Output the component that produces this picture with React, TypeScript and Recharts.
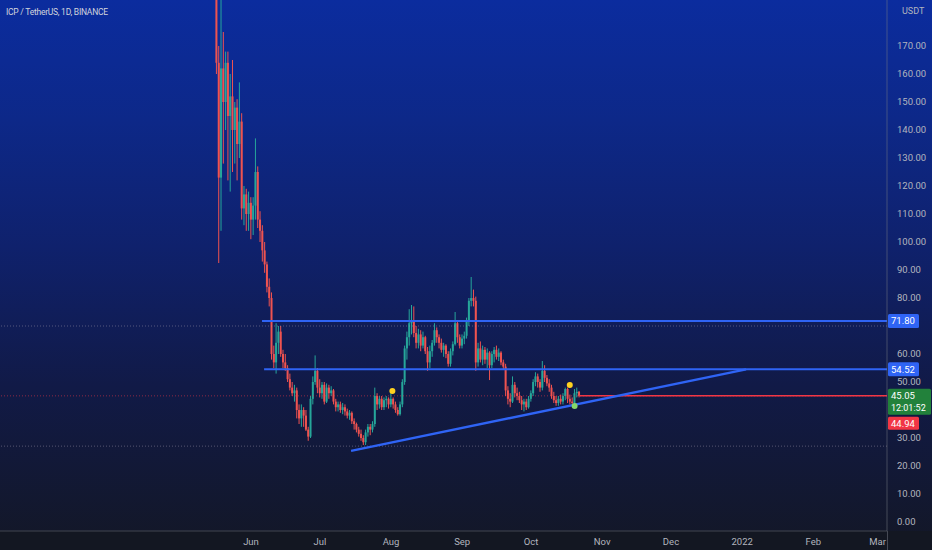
import React from 'react';
import { ComposedChart, Bar, XAxis, YAxis, ReferenceLine, ReferenceDot } from 'recharts';

// day 0 = 2021-06-01, first visible candle is 2021-05-17
const FIRST_DAY = -15;

const opens = [
  232, 164, 123, 162, 150, 164, 145, 152, 140, 148,
  135, 143, 112, 117, 110, 114, 108, 113, 125, 108,
  104, 97, 92, 84, 80, 60, 57, 64, 68, 60,
  57, 55, 51, 48, 46, 47, 40, 37, 40, 38,
  33, 30.5, 44, 50, 54, 48, 46, 49, 43, 48,
  46, 47, 43, 41, 42, 40, 41, 39.5, 38, 39,
  36, 35, 33, 31.5, 30, 28.5, 32, 34, 33, 35,
  45, 42, 44, 41, 43.5, 44, 42, 44, 42, 40,
  38.5, 42, 50, 62, 66, 71, 72, 67.5, 64, 67,
  63, 66, 61, 57, 61, 64, 68.5, 66, 64, 61.5,
  63, 60, 56.5, 61, 63.5, 71, 66, 63, 65.5, 66.5,
  72, 79, 80, 79, 57, 62, 58, 61.5, 58, 60.5,
  56, 60, 61.5, 59, 60.5, 57, 55.5, 47, 44, 43,
  49, 46, 45, 43.5, 42, 43, 41, 44, 46, 50,
  52, 50, 48, 54, 51.5, 49.5, 48, 45, 43.5, 42.5,
  44, 43, 45, 47.5, 44, 43, 42.5, 46, 46.5,
];

const highs = [
  262, 170, 200, 175, 168, 168, 160, 165, 150, 151,
  157, 146, 120, 119, 118, 116, 116, 137, 127, 111,
  106, 100, 93, 87, 82, 63, 71, 70, 70, 61.5,
  60, 56, 53, 50, 49, 48, 42, 42, 41, 40,
  34, 45, 52, 59.5, 55, 51, 50, 50, 49.5, 49,
  48.5, 47.5, 44, 43, 43, 42.5, 42, 40.5, 40, 39.5,
  37, 35.5, 34, 33, 31, 33, 35, 35, 36, 48,
  46, 45, 45, 44.5, 45, 44.5, 46, 44.5, 43, 41,
  43, 51, 63, 68, 76, 77.5, 77, 70, 69, 68.5,
  68, 66.5, 62.5, 63, 65, 71, 69.5, 67, 65.5, 64,
  63.5, 61, 62, 64.5, 75, 72, 67, 67, 68, 73,
  80, 87.5, 83, 80.5, 64, 64.5, 63, 62.5, 62, 61,
  61, 62.5, 63, 62, 61, 58, 56.5, 48.5, 46, 52,
  50, 48, 46.5, 45, 44, 44, 45, 47, 51, 53.5,
  53, 51, 57.5, 56, 52.5, 51, 49, 46.5, 45, 45,
  45.5, 46, 48, 48, 45.5, 44.5, 47.5, 48, 46.8,
];

const lows = [
  160, 92.5, 104, 128, 140, 122, 118, 125, 128, 122,
  130, 108, 106, 104, 104, 101, 102.5, 108, 105, 100,
  93, 89, 82, 77, 58, 55, 53, 60, 59, 55,
  54, 50, 47, 45, 43, 37, 35, 34, 34, 32.5,
  29, 30, 42, 49, 46, 44.5, 44, 42, 42.5, 44,
  45, 42, 39.5, 39.5, 39, 38.5, 38, 37, 36.5, 35,
  33, 32, 30.5, 29, 27.5, 27.5, 30.5, 31, 32, 34,
  40, 40.5, 40, 40, 41, 40.5, 41, 40.5, 39, 38,
  38, 41, 49, 58, 63, 67, 66, 62, 62, 61,
  62, 60, 54, 55, 59, 63, 64, 62, 60.5, 59,
  58.5, 55.5, 55.5, 59.5, 63, 64, 62, 62, 63.5, 65.5,
  70, 77, 77, 54, 55.5, 57, 56, 56.5, 55, 50.7,
  55, 57, 58, 57.5, 56, 54.5, 45, 42, 41, 42.5,
  44.5, 43.5, 42.5, 40, 39.5, 40, 40.5, 43, 45, 48.5,
  48, 46.5, 47, 50, 48.5, 46.5, 44, 42.5, 41.5, 41.5,
  42, 42, 43.5, 42.5, 42, 41.5, 42, 44.5, 44.5,
];

const closes = [
  164, 123, 162, 150, 164, 145, 152, 140, 148, 135,
  143, 112, 117, 110, 114, 108, 113, 125, 108, 104,
  97, 92, 84, 80, 60, 57, 64, 68, 60, 57,
  55, 51, 48, 46, 47, 40, 37, 40, 38, 33,
  30.5, 44, 50, 54, 48, 46, 49, 43, 48, 46,
  47, 43, 41, 42, 40, 41, 39.5, 38, 39, 36,
  35, 33, 31.5, 30, 28.5, 32, 34, 33, 35, 45,
  42, 44, 41, 43.5, 44, 42, 44, 42, 40, 38.5,
  42, 50, 62, 66, 71, 72, 67.5, 64, 67, 63,
  66, 61, 57, 61, 64, 68.5, 66, 64, 61.5, 63,
  60, 56.5, 61, 63.5, 71, 66, 63, 65.5, 66.5, 72,
  79, 80, 79, 57, 62, 58, 61.5, 58, 60.5, 56,
  60, 61.5, 59, 60.5, 57, 55.5, 47, 44, 43, 49,
  46, 45, 43.5, 42, 43, 41, 44, 46, 50, 52,
  50, 48, 54, 51.5, 49.5, 48, 45, 43.5, 42.5, 44,
  43, 45, 47.5, 44, 43, 42.5, 46, 46.5, 45.05,
];

const monthTicks = [0, 30, 61, 92, 122, 153, 183, 214, 245, 273];
const monthLabels = ['Jun', 'Jul', 'Aug', 'Sep', 'Oct', 'Nov', 'Dec', '2022', 'Feb', 'Mar'];
// 40 and 70 sit under the price tags, so they are not shown
const priceTicks = [0, 10, 20, 30, 50, 60, 80, 90, 100, 110, 120, 130, 140, 150, 160, 170];

// drawn levels
const resistance = 71.8;
const support = 54.52;
const lastPrice = 45.05;
const prevPrice = 44.94;
const trendStart = { day: 43.6, price: 25.4 };
const trendEnd = { day: 215.7, price: 54.52 };
const dottedLevels = [70.0, 27.1];
const yellowDots = [
  { day: 61.6, price: 46.8 },
  { day: 138.9, price: 48.9 },
];
const greenDot = { day: 141, price: 41.4 };

const candles = closes.map((close, i) => ({
  day: FIRST_DAY + i,
  open: opens[i],
  high: highs[i],
  low: lows[i],
  close,
}));

const X_DOMAIN: [number, number] = [-109.37, 277.12];
const Y_DOMAIN: [number, number] = [-3.21, 186.43];

const UP = '#26a69a';
const DOWN = '#ef5350';
const LINE_BLUE = '#2f64f5';
const FONT = 'Roboto, "Open Sans", sans-serif';

const Candle = (props: any) => {
  const { x, y, width, height, payload } = props;
  if (!payload || height == null) return null;
  const { open, close, high, low } = payload;
  const top = Math.min(y, y + height);
  const h = Math.abs(height);
  const k = high === low ? 0 : h / (high - low);
  const bodyTop = top + (high - Math.max(open, close)) * k;
  const bodyBot = top + (high - Math.min(open, close)) * k;
  const color = close >= open ? UP : DOWN;
  const cx = x + width / 2;
  return (
    <g>
      <line x1={cx} x2={cx} y1={top} y2={top + h} stroke={color} strokeWidth={1} />
      <rect x={x} y={bodyTop} width={width} height={Math.max(1, bodyBot - bodyTop)} fill={color} />
    </g>
  );
};

const PriceTag = (props: any) => {
  const { viewBox, text, fill } = props;
  if (!viewBox) return null;
  const x = viewBox.x + viewBox.width + 1;
  const y = viewBox.y;
  return (
    <g>
      <rect x={x} y={y - 7} width={31} height={14} fill={fill} rx={1.5} />
      <text x={x + 3} y={y + 3.5} fill="#ffffff" fontSize={9.5} fontFamily={FONT}>
        {text}
      </text>
    </g>
  );
};

const LastTag = (props: any) => {
  const { viewBox } = props;
  if (!viewBox) return null;
  const x = viewBox.x + viewBox.width + 1;
  const y = viewBox.y;
  return (
    <g>
      <rect x={x} y={y - 7} width={43} height={26} fill="#22813b" rx={1.5} />
      <text x={x + 3} y={y + 3.5} fill="#ffffff" fontSize={9.5} fontFamily={FONT}>
        {lastPrice.toFixed(2)}
      </text>
      <text x={x + 3} y={y + 15} fill="#ffffff" fontSize={9} fontFamily={FONT}>
        12:01:52
      </text>
      <rect x={x} y={y + 21} width={31} height={13} fill="#f23645" rx={1.5} />
      <text x={x + 3} y={y + 31} fill="#ffffff" fontSize={9.5} fontFamily={FONT}>
        {prevPrice.toFixed(2)}
      </text>
    </g>
  );
};

export default function App() {
  return (
    <div
      style={{
        position: 'relative',
        width: 932,
        height: 550,
        overflow: 'hidden',
        fontFamily: FONT,
        background:
          'linear-gradient(to bottom, #0b2c9e 0%, #0d2888 22%, #0f216c 45%, #111a47 70%, #131726 100%)',
      }}
    >
      <style>{'body{margin:0}'}</style>
      <div style={{ position: 'absolute', left: 0, top: 531, width: 932, height: 19, background: '#131722' }} />
      <div
        style={{
          position: 'absolute',
          left: 887,
          top: 531,
          width: 1,
          height: 19,
          background: 'rgba(120,123,134,0.5)',
        }}
      />
      <ComposedChart
        width={932}
        height={550}
        data={candles}
        margin={{ top: 0, right: 0, bottom: 0, left: 0 }}
        style={{ position: 'absolute', left: 0, top: 0 }}
      >
        <XAxis
          dataKey="day"
          type="number"
          domain={X_DOMAIN}
          allowDataOverflow
          ticks={monthTicks}
          interval={0}
          tickFormatter={(v: number) => monthLabels[monthTicks.indexOf(v)]}
          height={19}
          axisLine={{ stroke: '#434651' }}
          tickLine={false}
          tickMargin={1}
          tick={{ fill: '#b2b5be', fontSize: 9.5, fontFamily: FONT }}
        />
        <YAxis
          orientation="right"
          width={45}
          type="number"
          domain={Y_DOMAIN}
          allowDataOverflow
          ticks={priceTicks}
          interval={0}
          tickFormatter={(v: number) => v.toFixed(2)}
          axisLine={{ stroke: 'rgba(120,123,134,0.5)' }}
          tickLine={false}
          tickMargin={4}
          tick={{ fill: '#b2b5be', fontSize: 9.5, fontFamily: FONT, textAnchor: 'start' }}
        />
        {dottedLevels.map((lv) => (
          <ReferenceLine
            key={lv}
            y={lv}
            stroke="rgba(170,160,180,0.45)"
            strokeDasharray="1 2"
            strokeWidth={1}
          />
        ))}
        <ReferenceLine y={lastPrice} stroke="rgba(242,54,69,0.55)" strokeDasharray="1 2" strokeWidth={1} />
        <Bar
          dataKey={(d: any) => [d.low, d.high]}
          barSize={2}
          shape={Candle}
          isAnimationActive={false}
        />
        <ReferenceLine
          segment={[
            { x: 4.8, y: resistance },
            { x: X_DOMAIN[1], y: resistance },
          ]}
          stroke={LINE_BLUE}
          strokeWidth={2}
          label={(p: any) => <PriceTag {...p} text={resistance.toFixed(2)} fill={LINE_BLUE} />}
        />
        <ReferenceLine
          segment={[
            { x: 5.7, y: support },
            { x: X_DOMAIN[1], y: support },
          ]}
          stroke={LINE_BLUE}
          strokeWidth={2}
          label={(p: any) => <PriceTag {...p} text={support.toFixed(2)} fill={LINE_BLUE} />}
        />
        <ReferenceLine
          segment={[
            { x: 143, y: lastPrice },
            { x: X_DOMAIN[1], y: lastPrice },
          ]}
          stroke="#f23645"
          strokeWidth={1.5}
          label={(p: any) => <LastTag {...p} />}
        />
        <ReferenceLine
          segment={[
            { x: trendStart.day, y: trendStart.price },
            { x: trendEnd.day, y: trendEnd.price },
          ]}
          stroke={LINE_BLUE}
          strokeWidth={2.5}
        />
        {yellowDots.map((d) => (
          <ReferenceDot key={d.day} x={d.day} y={d.price} r={3} fill="#ffd21f" stroke="none" />
        ))}
        <ReferenceDot x={greenDot.day} y={greenDot.price} r={3} fill="#86d86a" stroke="none" />
      </ComposedChart>
      <div
        style={{
          position: 'absolute',
          left: 6,
          top: 7,
          fontSize: 8.5,
          letterSpacing: -0.25,
          color: '#d1d4dc',
          whiteSpace: 'nowrap',
        }}
      >
        ICP / TetherUS, 1D, BINANCE
      </div>
      <div style={{ position: 'absolute', left: 902, top: 6, fontSize: 9, color: '#b2b5be' }}>USDT</div>
    </div>
  );
}
